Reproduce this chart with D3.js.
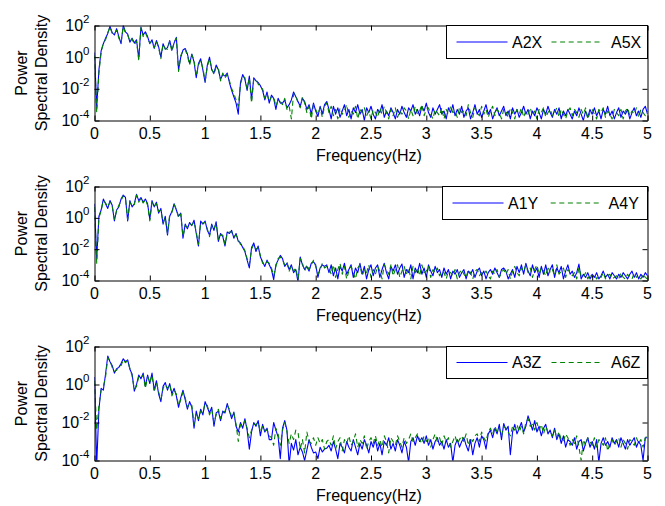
<!DOCTYPE html>
<html><head><meta charset="utf-8">
<script src="https://cdn.jsdelivr.net/npm/d3@7"></script>
<style>
html,body{margin:0;padding:0;background:#fff;}
svg text{font-family:"Liberation Sans",Arial,Helvetica,sans-serif;fill:#000;}
</style></head><body>
<svg id="chart" width="665" height="506"></svg>
<script>
// ---------------- data ----------------
const freqStep = 0.02;              // Hz between spectral samples (0 .. 5 Hz)
const xTicks = [0, 0.5, 1, 1.5, 2, 2.5, 3, 3.5, 4, 4.5, 5];
const xTickLabels = ["0", "0.5", "1", "1.5", "2", "2.5", "3", "3.5", "4", "4.5", "5"];
const yTickExponents = [-4, -2, 0, 2];
const xLabel = "Frequency(Hz)";
const yLabelLines = ["Power", "Spectral Density"];

// values are log10(PSD), one per frequency sample
const A2X = [
 0.3,-3.2,-0.8,0.4,0.85,1.2,1.5,1.94,1.55,1.4,
 1.8,1.3,0.85,2.0,1.6,1.45,0.95,1.2,0.9,1.1,
 -0.1,1.9,1.4,1.6,1.3,0.85,1.1,0.55,1.05,0.65,
 0.0,0.85,0.5,0.6,1.05,0.45,0.9,1.25,-0.8,0.0,
 0.45,0.55,0.2,-0.4,0.2,-0.3,-1.3,-0.4,-0.1,-0.8,
 -1.6,-0.5,0.0,-0.8,-1.0,-0.5,-0.8,-1.4,-1.1,-1.2,
 -1.0,-1.6,-2.1,-2.5,-2.9,-3.6,-1.6,-1.1,-1.4,-2.1,
 -1.2,-2.7,-1.3,-1.5,-1.6,-1.8,-2.1,-2.7,-2.2,-2.9,
 -2.4,-2.6,-3.3,-2.6,-2.9,-2.9,-2.7,-3.2,-3.0,-2.7,
 -2.2,-2.5,-2.8,-3.1,-2.6,-2.8,-3.3,-3.0,-3.6,-2.9,
 -3.4,-3.75,-3.1,-3.6,-3.0,-2.8,
 -3.3,-3.9,-3.1,-3.6,-3.2,-3.8,-3.4,-3.0,-3.7,-3.3,
 -3.9,-3.2,-3.5,-3.0,-3.6,-3.3,-4.0,-3.2,-3.5,-3.1,
 -3.6,-3.9,-3.3,-3.5,-3.0,-3.8,-3.4,-3.7,-3.2,-3.5,
 -3.9,-3.3,-3.6,-3.1,-3.5,-3.8,-3.2,-3.4,-3.0,-3.6,
 -3.3,-3.7,-3.1,-3.4,-2.9,-3.5,-3.8,-3.2,-3.6,-3.3,
 -3.0,-3.6,-3.4,-3.9,-3.2,-3.5,-3.0,-3.7,-3.3,-3.6,
 -3.1,-3.8,-3.4,-3.2,-3.9,-3.5,-3.0,-3.6,-3.3,-3.8,
 -3.4,-3.0,-3.6,-3.3,-3.9,-3.5,-3.2,-3.7,-3.4,-3.1,
 -3.7,-3.4,-3.9,-3.2,-3.6,-3.3,-3.8,-3.5,-3.1,-3.6,
 -3.3,-3.9,-3.4,-3.7,-3.2,-3.5,-3.9,-3.3,-3.6,-3.1,
 -3.5,-3.8,-3.3,-3.6,-3.2,-3.9,-3.4,-3.7,-3.3,-3.6,
 -3.9,-3.4,-3.7,-3.2,-3.6,-4.0,-3.4,-3.8,-3.3,-3.6,
 -3.2,-3.7,-3.4,-3.9,-3.3,-3.6,-3.1,-3.7,-3.4,-3.9,
 -3.5,-3.2,-3.8,-3.4,-3.6,-3.3,-3.9,-3.5,-3.2,-3.7,
 -3.4,-3.8,-3.3,-3.1,-3.6
];
const A5X = [
 0.1,-3.5,-1.0,0.3,0.9,1.1,1.55,1.9,1.5,1.45,
 1.7,1.2,0.9,1.95,1.5,1.4,1.0,1.15,0.8,1.0,
 -0.2,1.85,1.3,1.55,1.2,0.9,1.0,0.6,0.95,0.6,
 -0.1,0.8,0.55,0.5,1.0,0.35,0.95,1.2,-0.9,0.1,
 0.4,0.5,0.1,-0.5,0.15,-0.2,-1.2,-0.5,-0.2,-0.7,
 -1.5,-0.6,-0.1,-0.7,-1.1,-0.6,-0.7,-1.5,-1.0,-1.3,
 -1.1,-1.5,-2.0,-2.3,-2.7,-3.1,-1.7,-1.2,-1.3,-2.0,
 -1.3,-2.9,-1.4,-1.4,-1.7,-1.9,-2.0,-2.6,-2.3,-2.8,
 -2.5,-2.5,-3.1,-2.7,-2.8,-3.0,-2.6,-3.3,-3.1,-3.9,
 -2.3,-2.4,-2.9,-3.2,-2.5,-2.9,-3.5,-3.1,-3.9,-3.0,
 -3.3,-3.6,-3.2,-3.8,-3.1,-2.9,
 -3.5,-3.1,-3.7,-3.3,-3.9,-3.2,-3.6,-3.4,-3.0,-3.8,
 -3.4,-3.6,-3.1,-3.9,-3.3,-3.5,-3.2,-3.7,-3.4,-3.9,
 -3.3,-3.5,-3.8,-3.2,-3.6,-3.1,-3.5,-3.9,-3.3,-3.7,
 -3.2,-3.8,-3.4,-3.6,-3.2,-3.4,-3.9,-3.3,-3.7,-3.1,
 -3.6,-3.4,-3.0,-3.7,-3.3,-3.2,-3.6,-3.9,-3.3,-3.5,
 -3.7,-3.2,-3.9,-3.3,-3.6,-3.1,-3.5,-3.4,-3.8,-3.2,
 -3.5,-3.4,-3.7,-3.0,-3.5,-3.8,-3.2,-3.5,-3.7,-3.1,
 -3.6,-3.3,-3.8,-3.4,-3.1,-3.7,-3.3,-3.5,-3.9,-3.3,
 -3.4,-3.8,-3.2,-3.5,-3.9,-3.3,-3.6,-3.2,-3.8,-3.4,
 -3.6,-3.2,-3.7,-3.4,-3.9,-3.3,-3.5,-3.2,-3.8,-3.5,
 -3.3,-3.7,-3.5,-3.2,-3.8,-3.3,-3.6,-3.9,-3.4,-3.2,
 -3.7,-3.3,-3.5,-3.8,-3.3,-3.6,-3.2,-3.9,-3.5,-3.3,
 -3.6,-3.9,-3.3,-3.5,-3.2,-3.8,-3.4,-3.6,-3.9,-3.3,
 -3.5,-3.7,-3.3,-3.9,-3.4,-3.2,-3.7,-3.4,-3.6,-3.2,
 -3.8,-3.3,-3.5,-3.7,-3.4
];
const A1Y = [
 0.9,-2.6,0.1,0.5,1.2,0.9,0.6,1.1,0.8,-0.2,
 0.5,0.7,1.2,1.45,1.3,-0.2,1.1,0.7,0.9,1.5,
 1.1,1.3,1.0,1.2,0.9,-0.1,1.1,0.7,1.0,0.3,
 0.6,-0.4,0.1,-1.1,0.1,0.4,0.9,0.5,0.1,0.3,
 -1.3,-0.4,-0.7,-0.3,-0.5,-0.15,-1.0,-1.8,-0.2,-0.4,
 -0.2,-0.8,-1.1,-0.4,-0.8,-0.25,-1.5,-1.0,-1.2,-1.8,
 -0.9,-1.0,-0.8,-1.3,-1.0,-1.5,-1.6,-1.9,-2.15,-2.7,
 -3.2,-1.9,-1.6,-2.15,-1.8,-2.5,-2.8,-3.1,-2.7,-3.0,
 -3.3,-3.95,-3.0,-2.7,-2.4,-2.6,-3.1,-2.9,-3.3,-3.0,
 -3.5,-3.3,-4.1,-2.5,-3.0,-3.3,-3.1,-3.4,-2.9,-2.8,
 -3.0,-3.8,-3.2,-3.0,-3.1,-3.0,
 -3.5,-3.0,-3.7,-3.2,-3.9,-3.1,-3.4,-2.9,-3.6,-3.3,
 -3.0,-3.8,-3.2,-3.5,-2.9,-3.6,-3.1,-3.9,-3.3,-3.0,
 -3.7,-3.2,-3.0,-3.8,-3.3,-2.9,-3.5,-3.9,-3.1,-3.4,
 -3.0,-3.6,-3.2,-2.95,-3.8,-3.3,-3.5,-3.0,-3.9,-3.2,
 -3.5,-2.9,-3.6,-3.2,-3.8,-3.0,-3.4,-3.7,-3.1,-3.5,
 -3.3,-3.8,-3.2,-3.6,-3.3,-3.9,-3.4,-3.6,-3.3,-3.8,
 -3.5,-3.3,-3.9,-3.4,-3.6,-3.3,-3.8,-3.4,-3.2,-3.7,
 -3.4,-3.9,-3.5,-3.3,-3.6,-3.2,-3.5,-3.8,-3.3,-3.2,
 -3.4,-3.9,-3.6,-3.3,-3.8,-3.1,-3.5,-3.0,-3.6,-2.9,
 -3.4,-3.7,-3.0,-3.5,-3.2,-3.8,-3.1,-3.6,-3.0,-3.7,
 -3.3,-3.0,-3.8,-3.2,-3.5,-3.1,-3.9,-3.4,-3.0,-3.6,
 -3.4,-3.8,-3.5,-2.95,-3.9,-3.6,-3.8,-3.5,-3.9,-3.6,
 -3.8,-3.5,-3.9,-3.7,-3.4,-3.8,-3.6,-3.9,-3.5,-3.7,
 -3.9,-3.6,-3.8,-3.5,-3.7,-3.9,-3.6,-3.4,-3.8,-3.5,
 -3.9,-3.6,-3.8,-3.5,-3.7
];
const A4Y = [
 0.7,-2.9,0.0,0.45,1.1,0.95,0.7,1.0,0.75,-0.1,
 0.45,0.8,1.1,1.4,1.25,-0.1,1.0,0.75,0.85,1.45,
 1.0,1.25,0.95,1.15,0.8,-0.2,1.0,0.75,0.9,0.4,
 0.5,-0.3,0.0,-1.0,0.2,0.35,0.85,0.55,0.0,0.25,
 -1.2,-0.5,-0.6,-0.4,-0.45,-0.25,-0.9,-1.7,-0.3,-0.35,
 -0.3,-0.7,-1.2,-0.5,-0.7,-0.35,-1.4,-1.1,-1.1,-1.7,
 -1.0,-0.9,-0.9,-1.2,-1.1,-1.4,-1.7,-1.8,-2.1,-2.6,
 -3.0,-2.0,-1.7,-2.0,-1.9,-2.4,-2.9,-3.0,-2.8,-2.9,
 -3.2,-3.7,-3.1,-2.6,-2.5,-2.7,-3.0,-2.8,-3.4,-3.1,
 -3.4,-3.2,-3.9,-2.6,-2.9,-3.4,-3.0,-3.3,-3.0,-2.7,
 -3.1,-3.6,-3.3,-2.9,-3.2,-3.1,
 -3.2,-3.6,-3.0,-3.8,-3.3,-2.9,-3.6,-3.1,-3.9,-3.4,
 -3.1,-3.5,-3.9,-3.2,-3.0,-3.7,-3.3,-3.5,-3.0,-3.8,
 -3.3,-3.6,-3.1,-3.4,-3.9,-3.0,-3.3,-3.6,-3.0,-3.7,
 -3.3,-3.0,-3.8,-3.4,-3.1,-3.6,-3.2,-3.9,-3.1,-3.5,
 -3.2,-3.7,-3.0,-3.5,-3.4,-3.1,-3.8,-3.3,-3.5,-3.2,
 -3.7,-3.4,-3.5,-3.9,-3.4,-3.5,-3.7,-3.3,-3.9,-3.5,
 -3.3,-3.6,-3.8,-3.3,-3.5,-3.9,-3.4,-3.3,-3.7,-3.5,
 -3.6,-3.4,-3.7,-3.9,-3.4,-3.6,-3.3,-3.8,-3.5,-3.3,
 -3.6,-3.3,-3.9,-3.4,-3.1,-3.5,-3.7,-3.2,-3.4,-3.0,
 -3.5,-3.2,-3.8,-3.3,-3.0,-3.6,-3.2,-3.4,-3.7,-3.1,
 -3.5,-3.3,-3.7,-3.0,-3.6,-3.4,-3.2,-3.8,-3.3,-3.5,
 -3.7,-3.5,-3.9,-3.2,-3.7,-3.8,-3.5,-3.9,-3.6,-3.8,
 -3.6,-3.9,-3.7,-3.8,-3.5,-3.9,-3.7,-3.6,-3.9,-3.8,
 -3.7,-3.9,-3.5,-3.8,-3.9,-3.6,-3.8,-3.9,-3.5,-3.8,
 -3.7,-3.9,-3.6,-3.8,-3.9
];
const A3Z = [
 0.4,-4.2,-1.3,-0.2,-0.3,0.55,1.5,1.2,1.0,0.6,
 0.83,0.9,1.1,1.35,1.2,1.3,0.8,0.55,-0.35,0.0,
 0.5,0.3,0.6,-0.1,0.5,0.05,0.6,-0.3,0.2,-0.5,
 -0.9,-0.1,0.1,-0.3,0.05,-0.5,-0.2,-0.6,-1.2,-0.7,
 -0.3,-0.8,-1.3,-0.9,-1.2,-2.3,-1.4,-1.9,-1.3,-1.6,
 -0.9,-1.2,-1.5,-1.2,-2.2,-1.5,-1.4,-1.9,-1.4,-1.5,
 -1.0,-1.4,-1.8,-1.45,-2.2,-2.5,-2.0,-2.3,-1.8,-2.4,
 -3.4,-2.5,-2.0,-2.2,-1.9,-2.7,-2.1,-2.5,-2.3,-2.9,
 -2.9,-2.0,-2.4,-2.75,-3.9,-2.3,-1.9,-2.4,-4.2,-3.1,
 -3.45,-2.9,-3.7,-3.3,-3.55,-4.0,-3.45,-2.9,-3.3,-3.6,
 -3.55,-3.9,-3.3,-3.55,-3.4,-3.35,
 -3.2,-3.5,-3.0,-3.4,-3.9,-3.1,-3.3,-3.6,-3.0,-3.3,
 -3.5,-2.9,-3.3,-3.7,-3.1,-3.4,-2.9,-3.2,-3.6,-3.0,
 -3.3,-2.9,-3.5,-3.1,-3.7,-3.0,-3.2,-2.8,-3.4,-3.1,
 -3.5,-2.9,-3.2,-3.6,-3.0,-3.3,-4.1,-3.0,-2.8,-3.2,
 -2.7,-3.0,-2.8,-3.1,-2.7,-3.2,-2.9,-3.4,-3.0,-2.8,
 -3.2,-3.0,-3.4,-2.9,-3.3,-3.1,-4.1,-3.2,-2.9,-3.3,
 -3.0,-2.8,-3.2,-3.5,-2.9,-3.7,-3.1,-2.8,-3.3,-2.7,
 -2.9,-3.4,-2.6,-2.4,-2.8,-2.3,-2.6,-2.1,-2.9,-2.05,
 -2.4,-2.2,-3.7,-2.5,-2.1,-2.6,-2.3,-2.0,-2.5,-2.2,
 -1.65,-2.0,-2.4,-1.9,-2.5,-2.2,-2.7,-2.3,-2.1,-2.6,
 -2.4,-2.8,-2.3,-2.9,-2.6,-3.1,-2.7,-3.3,-2.9,-3.0,
 -3.2,-2.8,-3.4,-3.0,-2.9,-3.5,-3.1,-2.8,-3.3,-3.0,
 -3.4,-2.9,-4.1,-3.1,-2.8,-3.2,-3.0,-3.3,-2.8,-3.1,
 -2.9,-3.3,-2.8,-3.1,-3.4,-2.9,-3.2,-3.0,-2.8,-3.3,
 -3.0,-3.2,-4.0,-2.8,-2.8
];
const A6Z = [
 0.2,-2.4,-1.1,-0.3,-0.1,0.4,1.4,1.25,0.9,0.7,
 0.75,0.95,1.0,1.3,1.15,1.25,0.85,0.45,-0.25,-0.1,
 0.4,0.35,0.5,-0.2,0.4,0.1,0.5,-0.4,0.1,-0.4,
 -0.8,-0.2,0.0,-0.2,0.0,-0.6,-0.3,-0.5,-1.1,-0.8,
 -0.4,-0.7,-1.2,-1.0,-1.1,-2.1,-1.5,-1.8,-1.4,-1.5,
 -1.0,-1.1,-1.6,-1.3,-2.0,-1.6,-1.3,-1.8,-1.5,-1.4,
 -1.1,-1.3,-1.7,-1.5,-2.1,-3.0,-2.1,-2.2,-1.9,-2.3,
 -2.8,-2.4,-2.1,-2.1,-2.0,-2.5,-2.2,-2.4,-2.4,-2.7,
 -2.8,-3.2,-2.3,-2.6,-3.2,-2.4,-2.0,-2.5,-3.1,-2.6,
 -2.9,-2.4,-2.5,-3.4,-2.9,-3.6,-2.5,-3.0,-3.1,-2.8,
 -3.2,-2.8,-3.1,-2.9,-3.4,-3.0,
 -2.9,-3.2,-2.7,-3.4,-3.0,-2.8,-3.5,-2.9,-3.1,-2.7,
 -3.2,-3.0,-2.6,-3.3,-2.9,-3.1,-2.7,-3.4,-3.0,-2.8,
 -3.1,-2.7,-3.2,-2.9,-3.3,-2.7,-3.0,-3.6,-2.8,-3.0,
 -3.2,-2.7,-3.0,-3.3,-2.8,-3.1,-2.9,-2.6,-3.0,-2.8,
 -2.6,-2.9,-3.1,-2.7,-3.0,-2.8,-3.3,-2.9,-2.6,-3.0,
 -2.8,-3.2,-2.7,-3.0,-2.8,-3.3,-3.0,-2.7,-3.1,-2.9,
 -2.7,-3.0,-2.6,-3.2,-2.8,-3.0,-2.7,-2.6,-3.0,-2.5,
 -2.8,-3.0,-2.5,-2.3,-2.6,-2.2,-2.5,-2.3,-2.7,-2.2,
 -2.3,-2.5,-2.7,-2.2,-2.4,-2.1,-2.5,-2.2,-2.6,-2.0,
 -1.8,-2.2,-2.1,-2.4,-2.0,-2.4,-2.1,-2.6,-2.2,-2.5,
 -2.5,-2.7,-2.4,-2.8,-2.5,-2.9,-3.0,-2.6,-2.8,-3.2,
 -2.9,-3.1,-2.7,-3.3,-4.0,-2.9,-3.2,-2.8,-3.0,-3.2,
 -2.8,-3.3,-2.9,-3.0,-3.2,-2.8,-3.5,-3.1,-2.9,-3.2,
 -3.0,-2.8,-3.3,-2.9,-3.1,-3.4,-2.9,-3.0,-3.2,-2.8,
 -3.1,-2.9,-3.3,-2.8,-2.7
];
const panelSeries = [
  [{name: "A2X", values: A2X}, {name: "A5X", values: A5X}],
  [{name: "A1Y", values: A1Y}, {name: "A4Y", values: A4Y}],
  [{name: "A3Z", values: A3Z}, {name: "A6Z", values: A6Z}]
];

// ---------------- layout / style ----------------
const left = 94.5, right = 647.5;
const layout = [
  {top: 25.5, bottom: 120.5, legendLeft: 446.5, legendBottom: 58.5},
  {top: 186.5, bottom: 280.5, legendLeft: 442.5, legendBottom: 219.5},
  {top: 346.5, bottom: 460.5, legendLeft: 446.5, legendBottom: 378.5}
];
const seriesStyle = [
  {color: "#0000ff", dash: null},
  {color: "#008000", dash: "5,3.6"}
];
const fontSize = 16;

const svg = d3.select("#chart");
svg.append("rect").attr("width", 665).attr("height", 506).attr("fill", "#fff");

const x = d3.scaleLinear().domain([0, 5]).range([left, right]);

layout.forEach((L, pi) => {
  const y = d3.scaleLog().domain([1e-4, 1e2]).range([L.bottom, L.top]);
  const g = svg.append("g");
  const clipId = "clip" + pi;
  svg.append("clipPath").attr("id", clipId).append("rect")
    .attr("x", left).attr("y", L.top).attr("width", right - left).attr("height", L.bottom - L.top);

  // lines
  const line = d3.line().x(d => x(d.f)).y(d => y(d.p));
  const lg = g.append("g").attr("clip-path", `url(#${clipId})`);
  panelSeries[pi].forEach((s, si) => {
    const pts = s.values.map((v, i) => ({f: i * freqStep, p: Math.pow(10, v)}));
    lg.append("path").datum(pts).attr("d", line)
      .attr("fill", "none").attr("stroke", seriesStyle[si].color)
      .attr("stroke-width", 1.1)
      .attr("stroke-linejoin", "round")
      .attr("stroke-dasharray", seriesStyle[si].dash);
  });

  // axes (box with inward ticks)
  const yTickVals = yTickExponents.map(e => Math.pow(10, e));
  const axB = g.append("g").attr("transform", `translate(0,${L.bottom})`)
    .call(d3.axisBottom(x).tickValues(xTicks).tickSizeInner(-5).tickSizeOuter(0).tickFormat(""));
  const axT = g.append("g").attr("transform", `translate(0,${L.top})`)
    .call(d3.axisTop(x).tickValues(xTicks).tickSizeInner(-5).tickSizeOuter(0).tickFormat(""));
  const axL = g.append("g").attr("transform", `translate(${left},0)`)
    .call(d3.axisLeft(y).tickValues(yTickVals).tickSizeInner(-5).tickSizeOuter(0).tickFormat(""));
  const axR = g.append("g").attr("transform", `translate(${right},0)`)
    .call(d3.axisRight(y).tickValues(yTickVals).tickSizeInner(-5).tickSizeOuter(0).tickFormat(""));
  [axB, axT, axL, axR].forEach(a => {
    a.selectAll("path,line").attr("stroke", "#000").attr("stroke-width", 1);
    a.selectAll("text").remove();
  });

  // x tick labels
  xTicks.forEach((t, i) => {
    g.append("text").attr("x", x(t)).attr("y", L.bottom + 18.5)
      .attr("text-anchor", "middle").attr("font-size", fontSize).text(xTickLabels[i]);
  });
  // y tick labels 10^n
  yTickExponents.forEach(e => {
    const t = g.append("text").attr("x", 89.5).attr("y", y(Math.pow(10, e)) + 5.5)
      .attr("text-anchor", "end").attr("font-size", fontSize);
    t.append("tspan").text("10");
    t.append("tspan").attr("font-size", 11.5).attr("dy", -8).text(String(e));
  });
  // x label
  g.append("text").attr("x", (left + right) / 2 - 2).attr("y", L.bottom + 40.5)
    .attr("text-anchor", "middle").attr("font-size", fontSize).text(xLabel);
  // y label (two lines)
  const cy = (L.top + L.bottom) / 2;
  [27, 46.5].forEach((bx, k) => {
    g.append("text").attr("transform", `translate(${bx},${cy}) rotate(-90)`)
      .attr("text-anchor", "middle").attr("font-size", fontSize).text(yLabelLines[k]);
  });

  // legend
  const lgX = L.legendLeft, lgT = L.top, lgB = L.legendBottom;
  const leg = g.append("g");
  leg.append("rect").attr("x", lgX).attr("y", lgT).attr("width", right - lgX).attr("height", lgB - lgT)
    .attr("fill", "#fff").attr("stroke", "#000").attr("stroke-width", 1);
  const ly = (lgT + lgB) / 2;
  const off = lgX - 446.5;
  const entries = [
    {x1: 456.5 + off, x2: 507.5 + off, tx: 512 + off},
    {x1: 551.5 + off * 0.2, x2: 603 + off * 0.2, tx: 611 + off * 0.6}
  ];
  panelSeries[pi].forEach((s, si) => {
    const E = entries[si];
    leg.append("line").attr("x1", E.x1).attr("x2", E.x2).attr("y1", ly).attr("y2", ly)
      .attr("stroke", seriesStyle[si].color).attr("stroke-width", 1.1)
      .attr("stroke-dasharray", seriesStyle[si].dash);
    leg.append("text").attr("x", E.tx).attr("y", ly + 5.5).attr("font-size", fontSize).text(s.name);
  });
});
</script>
</body></html>
